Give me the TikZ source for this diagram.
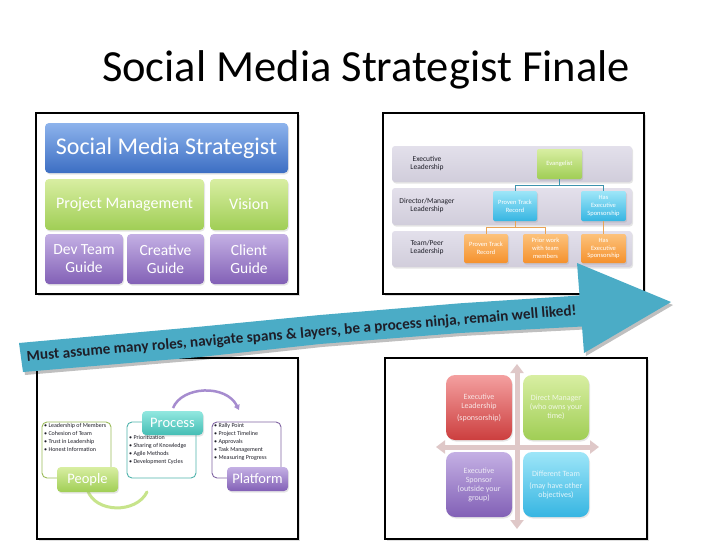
\documentclass[tikz,border=0pt]{standalone}
\usepackage{fontspec}
\setmainfont{Carlito}
\usetikzlibrary{arrows.meta,calc,shadows}
\newcommand\fsz[2]{\fontsize{#1}{#2}\selectfont}
\definecolor{arrowc}{HTML}{4BACC6}
\definecolor{blueT}{HTML}{8DB3EC}
\definecolor{blueB}{HTML}{3C6EC3}
\definecolor{greenT}{HTML}{D8EEA2}
\definecolor{greenB}{HTML}{A0CE55}
\definecolor{purpT}{HTML}{C4B0E4}
\definecolor{purpB}{HTML}{8260B6}
\definecolor{barT}{HTML}{E3E0EB}
\definecolor{barB}{HTML}{D1CDDB}
\definecolor{cyanT}{HTML}{9EE6F8}
\definecolor{cyanB}{HTML}{36B5E2}
\definecolor{orT}{HTML}{FCC27C}
\definecolor{orB}{HTML}{F5912C}
\definecolor{redT}{HTML}{F4A0A0}
\definecolor{redB}{HTML}{CC3E3E}
\definecolor{tealT}{HTML}{92E8E0}
\definecolor{tealB}{HTML}{44BDB4}
\definecolor{crossc}{HTML}{DFC8C8}
\definecolor{textdark}{HTML}{1E1E28}
\definecolor{lineteal}{HTML}{3E93AD}
\definecolor{lineor}{HTML}{E9A456}
\definecolor{frgreen}{HTML}{9BBB59}
\definecolor{frteal}{HTML}{4FB3AC}
\definecolor{frpurp}{HTML}{8064A2}
\tikzset{
  sz/.style 2 args={minimum width=#1pt, minimum height=#2pt},
  panel/.style={draw=black, line width=1.1pt, fill=white, inner sep=0pt,
    drop shadow={shadow xshift=2pt, shadow yshift=-2pt, opacity=0.25}},
  gbox/.style 2 args={rounded corners=4pt, top color=#1, bottom color=#2,
    inner sep=1pt, align=center, text=white,
    drop shadow={shadow xshift=1pt, shadow yshift=-1.5pt, opacity=0.2}},
  qbox/.style 2 args={rounded corners=9pt, top color=#1, bottom color=#2,
    inner sep=1pt, align=center, text=white!86!#2, font=\fsz{8}{9},
    drop shadow={shadow xshift=1pt, shadow yshift=-1.5pt, opacity=0.2}},
  bar/.style={rounded corners=3pt, top color=barT, bottom color=barB, inner sep=0pt,
    drop shadow={shadow xshift=1pt, shadow yshift=-1.5pt, opacity=0.2}},
  rowlabel/.style={font=\fsz{7.5}{8.7}, align=center, text=textdark},
  tinybox/.style={font=\fsz{6.5}{7.8}},
  frame/.style={draw=#1, line width=0.9pt, rounded corners=5pt, fill=white, inner sep=0pt},
  bullets/.style={font=\fsz{6}{8}, align=left, anchor=north west, inner sep=0pt, text=textdark},
  cross/.style={draw=crossc, line width=5pt,
    {Triangle[width=13pt,length=9pt]}-{Triangle[width=13pt,length=9pt]}},
}
\begin{document}
\begin{tikzpicture}[x=1pt,y=-1pt]
\useasboundingbox[fill=white] (0,0) rectangle (728,546);

% Title
\node[font=\fsz{44.5}{50}, anchor=base, text=black, inner sep=0pt] (title) at (366,81) {Social Media Strategist Finale};

% ---------- Top-left panel ----------
\node[panel, sz={262}{181}] (tl) at (167,203.5) {};
\node[gbox={blueT}{blueB}, sz={243}{50}, font=\fsz{24}{28}] (sms) at (166.5,148) {Social Media Strategist};
\node[gbox={greenT}{greenB}, sz={159}{51}, font=\fsz{16}{18}] (pm) at (124.5,204.5) {Project Management};
\node[gbox={greenT}{greenB}, sz={78}{51}, font=\fsz{16}{18}] (vis) at (249,204.5) {Vision};
\node[gbox={purpT}{purpB}, sz={78}{50}, font=\fsz{15.5}{18}] (dev) at (84,259) {Dev Team\\Guide};
\node[gbox={purpT}{purpB}, sz={77}{50}, font=\fsz{15.5}{18}] (cre) at (165.5,259) {Creative\\Guide};
\node[gbox={purpT}{purpB}, sz={78}{50}, font=\fsz{15.5}{18}] (cli) at (249,259) {Client\\Guide};

% ---------- Top-right panel ----------
\node[panel, sz={261}{181}] (tr) at (513.5,203.5) {};
\node[bar, sz={240}{36}] (b1) at (512,164) {};
\node[bar, sz={240}{37}] (b2) at (512,206.5) {};
\node[bar, sz={240}{36}] (b3) at (512,249) {};
\node[rowlabel] (l1) at (427,163.5) {Executive\\Leadership};
\node[rowlabel] (l2) at (427,205.5) {Director/Manager\\Leadership};
\node[rowlabel] (l3) at (427,247.5) {Team/Peer\\Leadership};
\node[gbox={greenT}{greenB}, sz={45}{30}, tinybox, rounded corners=2pt] (ev) at (559.5,164) {Evangelist};
\node[gbox={cyanT}{cyanB}, sz={44}{30}, tinybox, rounded corners=2pt] (ptr) at (515,206) {Proven Track\\Record};
\node[gbox={cyanT}{cyanB}, sz={45}{30}, tinybox, rounded corners=2pt] (hes) at (603.5,206) {Has\\Executive\\Sponsorship};
\node[gbox={orT}{orB}, sz={44}{29}, tinybox, rounded corners=2pt] (optr) at (486,248.5) {Proven Track\\Record};
\node[gbox={orT}{orB}, sz={45}{29}, tinybox, rounded corners=2pt] (prior) at (545.5,248.5) {Prior work\\with team\\members};
\node[gbox={orT}{orB}, sz={45}{29}, tinybox, rounded corners=2pt] (ohes) at (603.5,248.5) {Has\\Executive\\Sponsorship};
\draw[lineteal, line width=0.8pt] (ev.south) -- ++(0,6) -| (ptr.north);
\draw[lineteal, line width=0.8pt] (ev.south) -- ++(0,6) -| (hes.north);
\draw[lineor, line width=0.8pt] (ptr.south) -- ++(0,6) -| (optr.north);
\draw[lineor, line width=0.8pt] (ptr.south) -- ++(0,6) -| (prior.north);
\draw[lineor, line width=0.8pt] (hes.south) -- (ohes.north);

% ---------- Bottom-left panel ----------
\node[panel, sz={261}{181}] (bl) at (167.5,448.5) {};
\node[frame=frgreen, sz={69}{56}] (pf) at (76.5,450) {};
\node[frame=frteal, sz={69}{56}] (prf) at (161.5,450) {};
\node[frame=frpurp, sz={69}{56}] (plf) at (246.5,450) {};
\node[bullets] (pbul) at (44,423.5) {\textbullet\ Leadership of Members\\\textbullet\ Cohesion of Team\\\textbullet\ Trust in Leadership\\\textbullet\ Honest Information};
\node[bullets] (prbul) at (129,435.5) {\textbullet\ Prioritization\\\textbullet\ Sharing of Knowledge\\\textbullet\ Agile Methods\\\textbullet\ Development Cycles};
\node[bullets] (plbul) at (214,423.5) {\textbullet\ Rally Point\\\textbullet\ Project Timeline\\\textbullet\ Approvals\\\textbullet\ Task Management\\\textbullet\ Measuring Progress};
\coordinate (gend) at (147,492);
\coordinate (pend) at (239,410);
\coordinate (gstart) at (87.5,490);
\coordinate (pstart) at (173,408);
\draw[line width=3pt, draw=greenT!70!greenB, line cap=round] (gstart) .. controls (95,513) and (136,514) .. (gend);
\draw[line width=2.5pt, draw=purpT!55!purpB, -{Triangle[length=5pt,width=6pt]}] (pstart) .. controls (182,386) and (226,384) .. (pend);
\node[gbox={greenT}{greenB}, sz={61}{25}, font=\fsz{14.5}{16}] (people) at (87.5,479.5) {People};
\node[gbox={tealT}{tealB}, sz={61}{24}, font=\fsz{14.5}{16}] (process) at (172.5,423) {Process};
\node[gbox={purpT}{purpB}, sz={61}{24}, font=\fsz{14.5}{16}] (platform) at (257.5,479) {Platform};

% ---------- Bottom-right panel ----------
\node[panel, sz={262}{181}] (br) at (516,448.5) {};
\coordinate (vt) at (517,364);
\coordinate (vb) at (517,529);
\coordinate (hl) at (436,447);
\coordinate (hr) at (599,447);
\draw[cross] (vt) -- (vb);
\draw[cross] (hl) -- (hr);
\node[qbox={redT}{redB}, sz={66}{65}] (q1) at (479,407.5) {Executive\\Leadership\\[3pt](sponsorship)};
\node[qbox={greenT}{greenB}, sz={66}{65}] (q2) at (556,407.5) {Direct Manager\\(who owns your\\time)};
\node[qbox={purpT}{purpB}, sz={66}{65}] (q3) at (479,484.5) {Executive\\Sponsor\\(outside your\\group)};
\node[qbox={cyanT}{cyanB}, sz={66}{65}] (q4) at (556,484.5) {Different Team\\[3pt](may have other\\objectives)};

% ---------- Big arrow ----------
\fill[black, opacity=0.25, shift={(2pt,-3pt)}]
  (19,343) -- (200,326.7) -- (320,315) -- (460,303.3) -- (579.5,295.5) -- (577,263)
  -- (671,302) -- (584,353) -- (582,326.5) -- (460,333) -- (320,344) -- (200,357) -- (23,372) -- cycle;
\fill[arrowc]
  (19,343) -- (200,326.7) -- (320,315) -- (460,303.3) -- (579.5,295.5) -- (577,263)
  -- (671,302) -- (584,353) -- (582,326.5) -- (460,333) -- (320,344) -- (200,357) -- (23,372) -- cycle;
\node[font=\bfseries\fsz{15.2}{18}, text=textdark, rotate=4.8, anchor=base, inner sep=0pt] (slogan) at (302,338)
  {Must assume many roles, navigate spans \& layers, be a process ninja, remain well liked!};
\end{tikzpicture}
\end{document}
